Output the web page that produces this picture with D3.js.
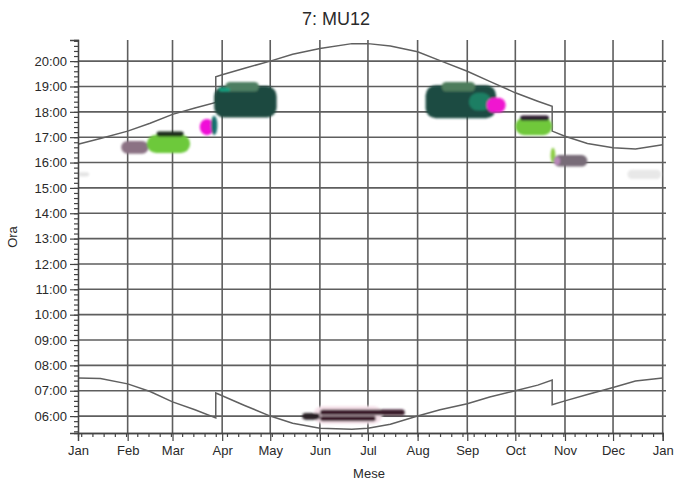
<!DOCTYPE html>
<html><head><meta charset="utf-8">
<script src="https://cdn.jsdelivr.net/npm/d3@7"></script>
<style>
body{margin:0;background:#fff}
svg{display:block}
text{font-family:"Liberation Sans",Arial,sans-serif;fill:#2a2a2a}
</style>
</head><body>
<svg id="c" width="674" height="486"></svg>
<script>
// ---------- data ----------
const chartTitle = "7: MU12";
const xTitle = "Mese";
const yTitle = "Ora";
const monthLabels = ["Jan","Feb","Mar","Apr","May","Jun","Jul","Aug","Sep","Oct","Nov","Dec","Jan"];
const hourTicks = [6,7,8,9,10,11,12,13,14,15,16,17,18,19,20];

// sun curve sample dates (DST jumps appear as repeated dates)
const curveDates = ["2021-01-01","2021-01-15","2021-02-01","2021-02-15","2021-03-01","2021-03-15","2021-03-28","2021-03-28",
  "2021-04-01","2021-04-15","2021-05-01","2021-05-15","2021-06-01","2021-06-21","2021-07-01","2021-07-15","2021-08-01",
  "2021-08-15","2021-09-01","2021-09-15","2021-10-01","2021-10-15","2021-10-24","2021-10-24","2021-11-01","2021-11-15",
  "2021-12-01","2021-12-15","2022-01-01"];
const sunsetHours  = [16.72,16.95,17.24,17.55,17.90,18.15,18.37,19.38,
  19.46,19.72,20.00,20.27,20.50,20.69,20.69,20.60,20.37,
  20.02,19.60,19.20,18.75,18.42,18.22,17.24,17.04,16.75,
  16.58,16.53,16.70];
const sunriseHours = [7.50,7.48,7.27,6.97,6.56,6.25,5.93,6.91,
  6.80,6.42,6.00,5.72,5.52,5.48,5.52,5.68,6.00,
  6.25,6.49,6.75,7.00,7.22,7.42,6.45,6.60,6.85,
  7.13,7.38,7.50];

// observation clusters: date span and hour span
const clusterStart  = ["2021-12-10","2021-01-01","2021-01-28","2021-02-13","2021-02-19","2021-03-18","2021-03-25","2021-03-27","2021-04-03","2021-03-30",
  "2021-08-06","2021-08-16","2021-09-02","2021-09-13","2021-10-01","2021-10-04","2021-10-23","2021-10-25","2021-10-25",
  "2021-05-28","2021-05-21","2021-06-01","2021-06-01"];
const clusterEnd    = ["2021-12-31","2021-01-08","2021-02-14","2021-03-12","2021-03-08","2021-03-27","2021-03-29","2021-05-05","2021-04-24","2021-04-06",
  "2021-09-19","2021-09-06","2021-09-16","2021-09-25","2021-10-24","2021-10-22","2021-10-26","2021-11-15","2021-10-29",
  "2021-07-10","2021-06-01","2021-07-24","2021-07-06"];
const clusterTop    = [15.72,15.62,16.85,17.10,17.22,17.72,17.85,19.02,19.18,18.95,
  19.05,19.18,18.75,18.56,17.78,17.86,16.58,16.30,16.22,
  6.40,6.12,6.26,6.00];
const clusterBottom = [15.35,15.45,16.35,16.38,17.03,17.08,17.08,17.78,18.80,18.80,
  17.75,18.80,18.05,17.97,17.08,17.66,15.98,15.84,15.90,
  5.70,5.86,6.03,5.80];
const clusterColors = ["#e8e8e8","#e4e4e4","#8b7284","#6dc93b","#1c2a1c","#f010d8","#167070","#1e4a40","#4d7e62","#18a080",
  "#1d4b42","#4e7c5c","#1f7e64","#f012d0","#6fc83a","#2a1a2e","#8ccc44","#786c78","#b888b8",
  "#f6e2ea","#2a2228","#3b1d2b","#3b1d2b"];

// ---------- chart ----------
const svg = d3.select("#c");
const x = d3.scaleUtc().domain([new Date("2021-01-01"), new Date("2022-01-01")]).range([78, 662.7]);
const y = d3.scaleLinear().domain([5.333, 20.833]).range([433, 40]);
const parse = s => new Date(s + "T00:00:00Z");
const monthDates = d3.range(13).map(i => new Date(Date.UTC(2021, i, 1)));

// grid
const grid = svg.append("g").attr("stroke", "#5e5e5e").attr("stroke-width", 1.6);
grid.selectAll("line.h").data(hourTicks).join("line").attr("class","h")
  .attr("x1", 78).attr("x2", 666).attr("y1", d => y(d)).attr("y2", d => y(d));
grid.selectAll("line.v").data(monthDates.slice(1)).join("line").attr("class","v")
  .attr("x1", d => x(d)).attr("x2", d => x(d)).attr("y1", 40).attr("y2", 433);

// sun curves
const line = d3.line().x(d => x(parse(d[0]))).y(d => y(d[1]));
svg.append("path").datum(curveDates.map((d,i)=>[d, sunsetHours[i]]))
  .attr("d", line).attr("fill","none").attr("stroke","#606060").attr("stroke-width",1.5);
svg.append("path").datum(curveDates.map((d,i)=>[d, sunriseHours[i]]))
  .attr("d", line).attr("fill","none").attr("stroke","#606060").attr("stroke-width",1.5);

// blur filter for clusters
const defs = svg.append("defs");
defs.append("filter").attr("id","soft").attr("x","-20%").attr("y","-50%").attr("width","140%").attr("height","200%")
  .append("feGaussianBlur").attr("stdDeviation", 1.3);

svg.append("g").attr("filter","url(#soft)")
  .selectAll("rect").data(d3.range(clusterStart.length)).join("rect")
  .attr("x", i => x(parse(clusterStart[i])))
  .attr("width", i => Math.max(2, x(parse(clusterEnd[i])) - x(parse(clusterStart[i]))))
  .attr("y", i => y(clusterTop[i]))
  .attr("height", i => y(clusterBottom[i]) - y(clusterTop[i]))
  .attr("rx", i => Math.min(10, (y(clusterBottom[i]) - y(clusterTop[i]))/2))
  .attr("fill", i => clusterColors[i]);

// axes
const yAxis = d3.axisLeft(y).tickValues(hourTicks).tickSize(8).tickPadding(3)
  .tickFormat(d => String(d).padStart(2,"0") + ":00");
const yMinor = d3.axisLeft(y).tickValues(d3.range(5.4, 20.84, 0.2)).tickSize(4).tickFormat("");
const xAxis = d3.axisBottom(x).tickValues(monthDates).tickSize(8).tickPadding(5)
  .tickFormat((d,i) => monthLabels[i]);
const xMinor = d3.axisBottom(x).ticks(d3.utcWeek.every(1)).tickSize(4).tickFormat("");

function styleAxis(g){
  g.selectAll("path").attr("stroke","#444").attr("stroke-width",1.3);
  g.selectAll("line").attr("stroke","#444").attr("stroke-width",1.2);
  g.selectAll("text").attr("font-size",13).attr("fill","#2a2a2a")
    .attr("font-family",'"Liberation Sans",Arial,sans-serif');
}
svg.append("g").attr("transform","translate(78,0)").call(yMinor).call(styleAxis);
svg.append("g").attr("transform","translate(78,0)").call(yAxis).call(styleAxis);
svg.append("g").attr("transform","translate(0,433)").call(xMinor).call(styleAxis);
svg.append("g").attr("transform","translate(0,433)").call(xAxis).call(styleAxis);

// titles
svg.append("text").attr("x", 336).attr("y", 25).attr("text-anchor","middle")
  .attr("font-size", 18).text(chartTitle);
svg.append("text").attr("x", 369).attr("y", 478).attr("text-anchor","middle")
  .attr("font-size", 13).text(xTitle);
svg.append("text").attr("transform","translate(17,237) rotate(-90)").attr("text-anchor","middle")
  .attr("font-size", 13).text(yTitle);
</script>
</body></html>
